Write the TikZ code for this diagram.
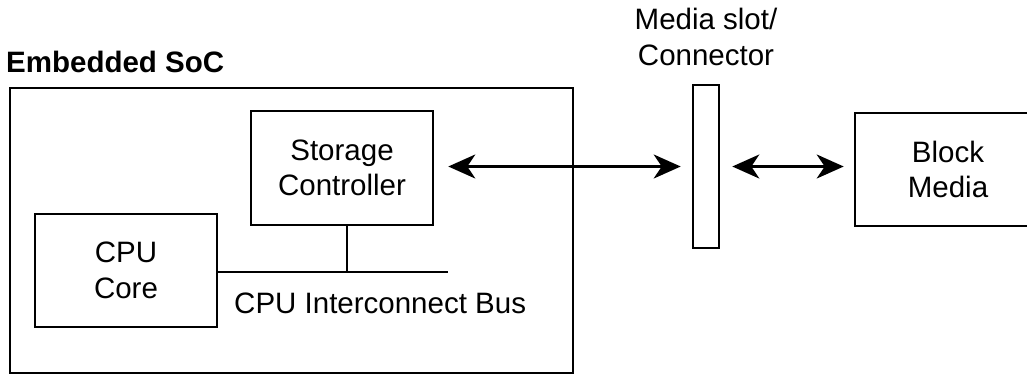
\documentclass[tikz,border=0pt]{standalone}
\usepackage{fontspec}
\setmainfont{Liberation Sans}
\usetikzlibrary{arrows.meta,positioning}
\tikzset{
  box/.style={draw=black,line width=2.6pt,inner sep=0pt,align=center,font=\fontsize{29.5}{35.5}\selectfont},
  plain/.style={inner sep=0pt,align=center,font=\fontsize{29.5}{35.5}\selectfont},
  bus/.style={draw=black,line width=2.6pt},
  ar/.style={{Stealth[length=27pt,width=24pt,inset=8pt]}-{Stealth[length=27pt,width=24pt,inset=8pt]},draw=black,line width=2.6pt},
}
\begin{document}
\begin{tikzpicture}[x=1pt,y=-1pt]
  \useasboundingbox (0,0) rectangle (1027,376);
  \node[box,minimum width=563pt,minimum height=285pt] (soc) at (291.5,230.5) {};
  \node[plain,anchor=base west,font=\fontsize{29.5}{35.5}\selectfont\bfseries] (soclabel) at (6,72) {Embedded SoC};
  \node[box,minimum width=182pt,minimum height=114pt] (store) at (342,168) {Storage\\Controller};
  \node[box,minimum width=182pt,minimum height=113pt] (cpu) at (126,270.5) {CPU\\Core};
  \coordinate (busend) at (448,272);
  \draw[bus] (cpu.east |- busend) -- (busend);
  \draw[bus] ([xshift=5pt]store.south) -- ([xshift=5pt]store.south |- busend);
  \node[plain,anchor=base west] (buslabel) at (234,313) {CPU Interconnect Bus};
  \node[box,minimum width=26pt,minimum height=163pt] (slot) at (706,166.5) {};
  \node[plain,above=18pt of slot] (slotlabel) {Media slot/\\Connector};
  \node[box,minimum width=186pt,minimum height=113pt] (media) at (948,169.5) {Block\\Media};
  \draw[ar,shorten <=14pt,shorten >=11pt] (store.east |- slot.west) -- (slot.west);
  \draw[ar,shorten <=12pt,shorten >=10pt] (slot.east) -- (slot.east -| media.west);
\end{tikzpicture}
\end{document}
